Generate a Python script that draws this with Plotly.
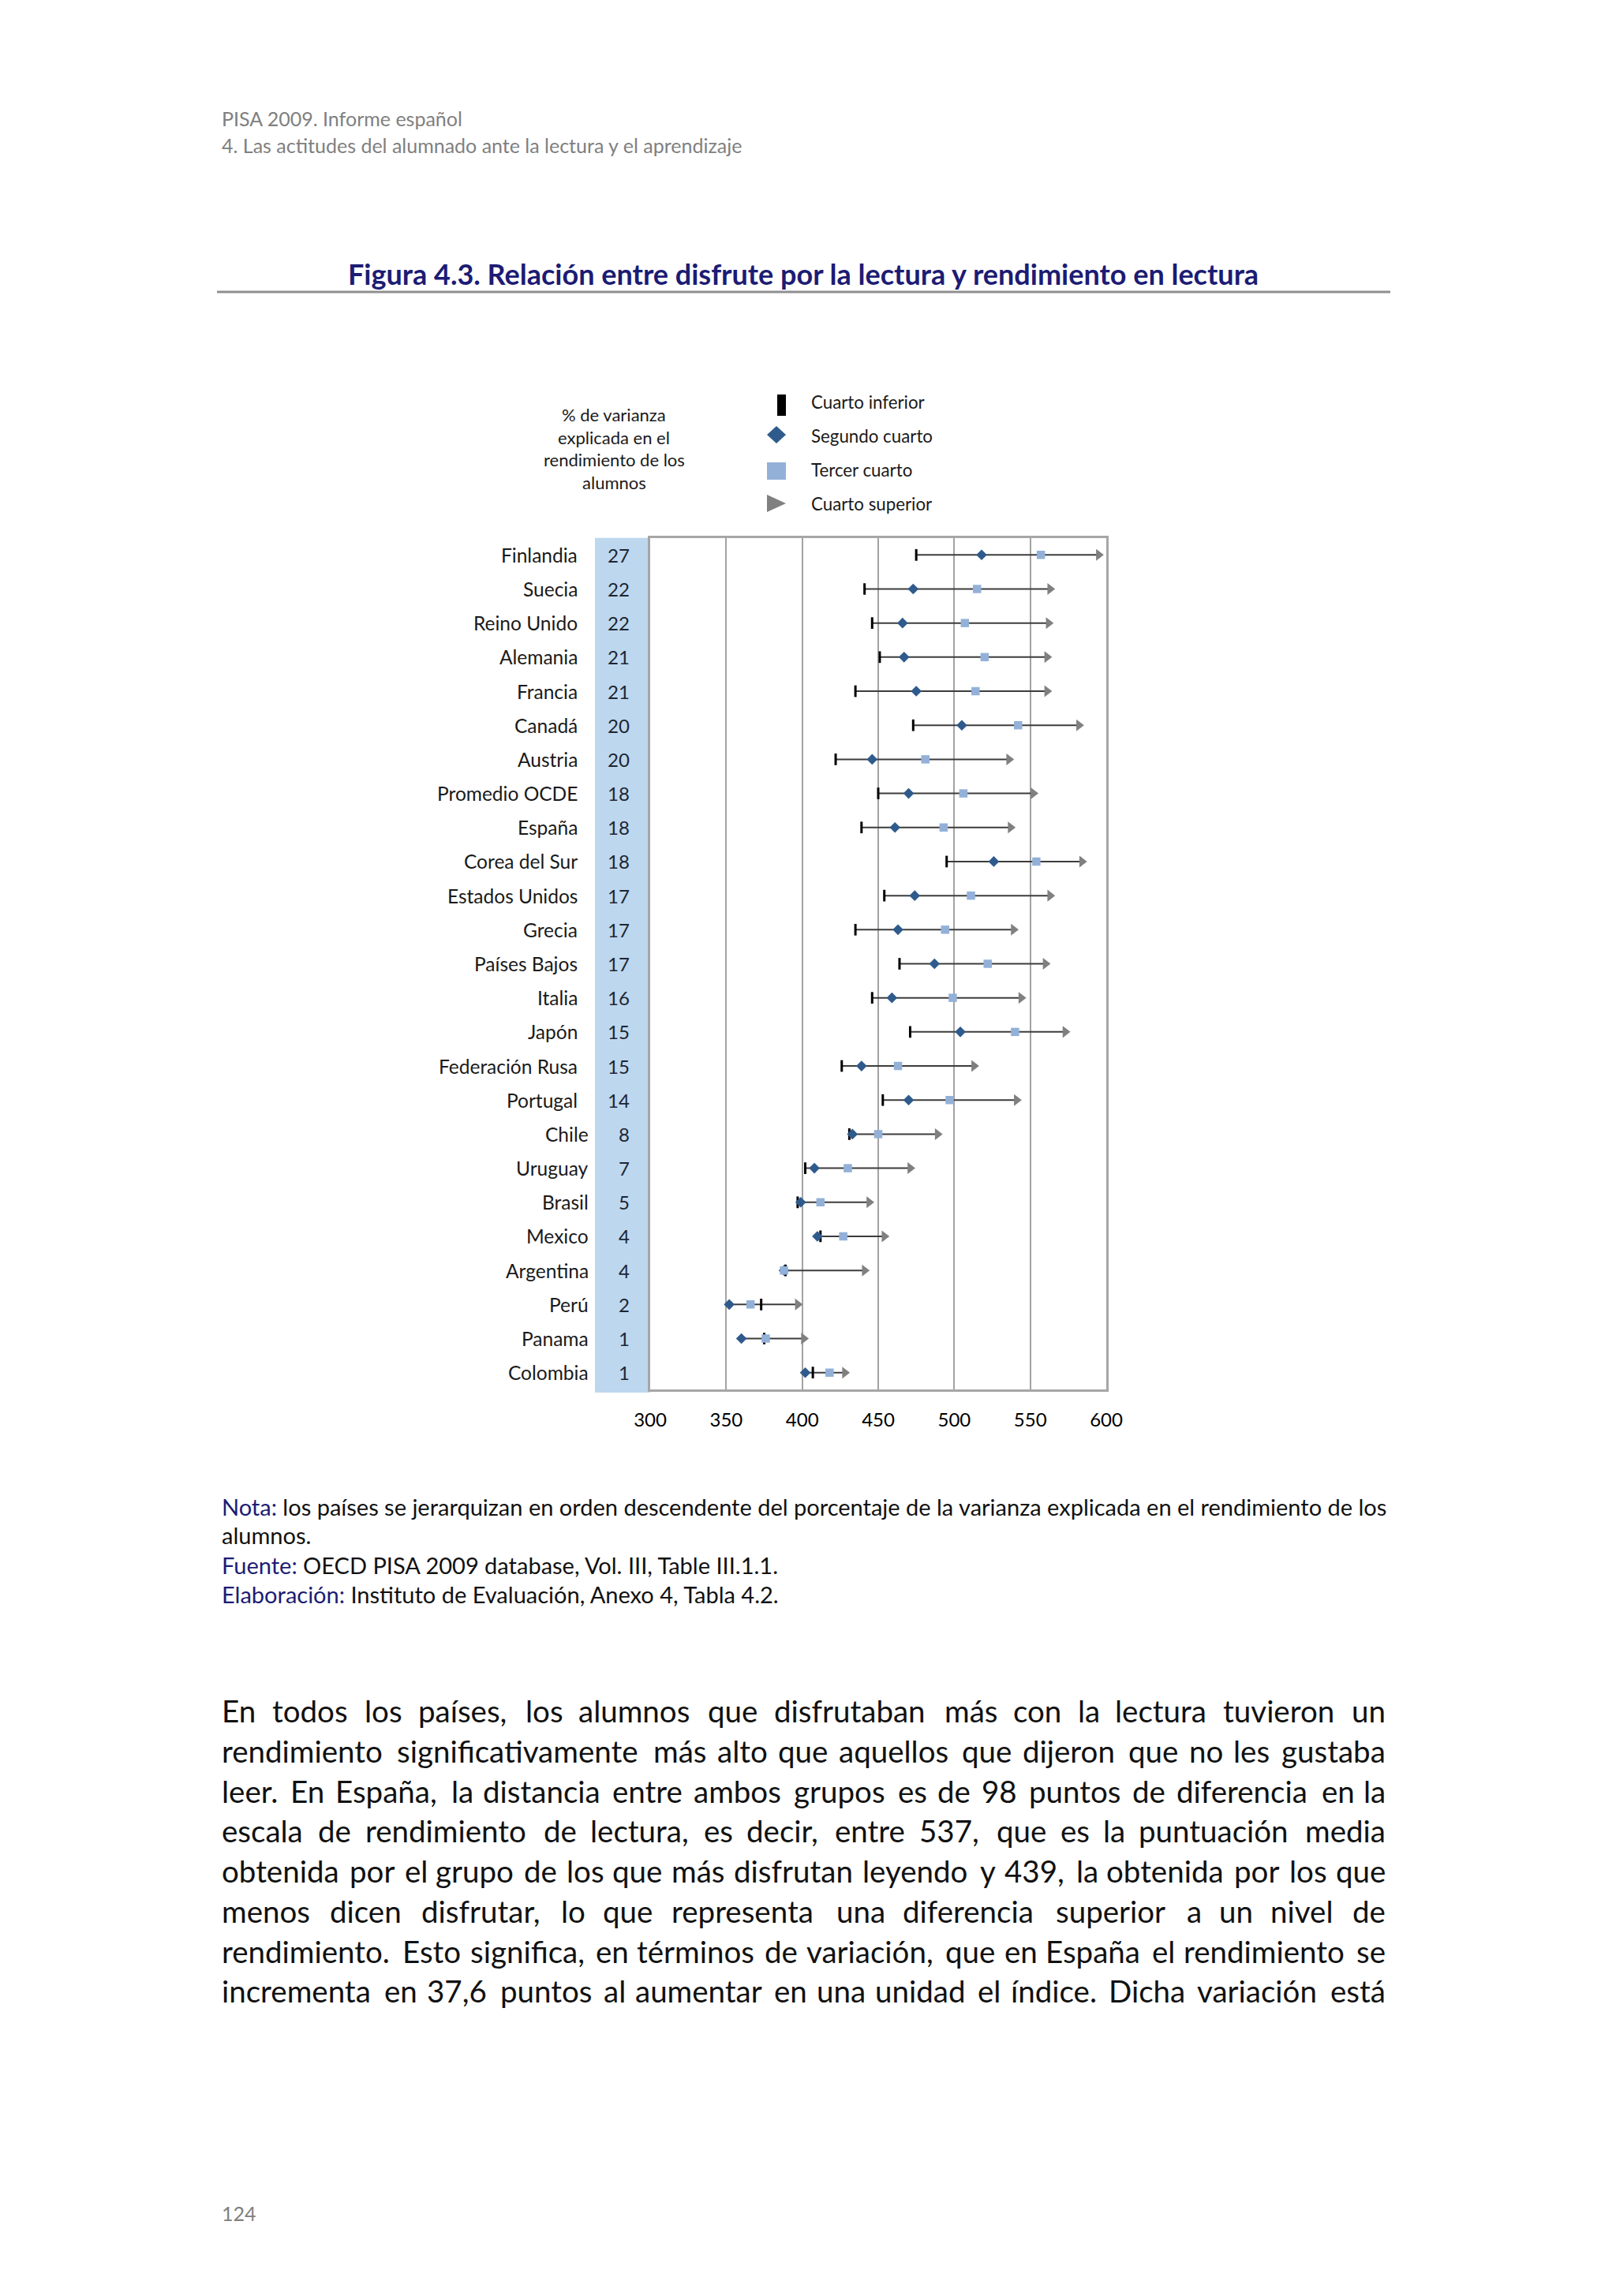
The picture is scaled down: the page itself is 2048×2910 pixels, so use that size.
import plotly.graph_objects as go

W, H = 2048, 2910
FONT = "Lato"

# ---------------- data ----------------
countries = ["Finlandia", "Suecia", "Reino Unido", "Alemania", "Francia", "Canadá", "Austria",
             "Promedio OCDE", "España", "Corea del Sur", "Estados Unidos", "Grecia", "Países Bajos",
             "Italia", "Japón", "Federación Rusa", "Portugal", "Chile", "Uruguay", "Brasil",
             "Mexico", "Argentina", "Perú", "Panama", "Colombia"]
pct_varianza = [27, 22, 22, 21, 21, 20, 20, 18, 18, 18, 17, 17, 17, 16, 15, 15, 14, 8, 7, 5, 4, 4, 2, 1, 1]
cuarto_inferior = [475, 441, 446, 451, 435, 473, 422, 450, 439, 495, 454, 435, 464, 446, 471, 426, 453,
                   431, 402, 397, 412, 389, 373, 375, 407]
segundo_cuarto = [518, 473, 466, 467, 475, 505, 446, 470, 461, 526, 474, 463, 487, 459, 504, 439, 470,
                  433, 408, 399, 410, 388, 352, 360, 402]
tercer_cuarto = [557, 515, 507, 520, 514, 542, 481, 506, 493, 554, 511, 494, 522, 499, 540, 463, 497,
                 450, 430, 412, 427, 388, 366, 376, 418]
cuarto_superior = [595, 563, 562, 561, 561, 582, 536, 552, 537, 584, 563, 539, 560, 544, 573, 513, 541,
                   489, 471, 444, 454, 441, 397, 401, 428]
x_ticks = [300, 350, 400, 450, 500, 550, 600]
legend_names = ["Cuarto inferior", "Segundo cuarto", "Tercer cuarto", "Cuarto superior"]

header_lines = ["PISA 2009. Informe español",
                "4. Las actitudes del alumnado ante la lectura y el aprendizaje"]
title_text = "Figura 4.3. Relación entre disfrute por la lectura y rendimiento en lectura"
var_label = ["% de varianza", "explicada en el", "rendimiento de los", "alumnos"]
body_lines = [
    "En todos los países, los alumnos que disfrutaban más con la lectura tuvieron un",
    "rendimiento significativamente más alto que aquellos que dijeron que no les gustaba",
    "leer. En España, la distancia entre ambos grupos es de 98 puntos de diferencia en la",
    "escala de rendimiento de lectura, es decir, entre 537, que es la puntuación media",
    "obtenida por el grupo de los que más disfrutan leyendo y 439, la obtenida por los que",
    "menos dicen disfrutar, lo que representa una diferencia superior a un nivel de",
    "rendimiento. Esto significa, en términos de variación, que en España el rendimiento se",
    "incrementa en 37,6 puntos al aumentar en una unidad el índice. Dicha variación está",
]

# ---------------- styles ----------------
C_INF = "#000000"
C_SEG = "#2f5b8c"
C_TER = "#93b1d8"
C_SUP = "#808080"
C_LINE = "#3c3c3c"
C_BAND = "#bdd7ee"
C_NAVY = "#1c1c74"
C_GRAY = "#808080"

# measured natural widths (px) of body lines at 33 px, used for justification
BODY_REF_SIZE = 33
BODY_MEASURED = [1162, 1238, 1226, 1186, 1255, 1133, 1258, 1235]
BODY_SIZE = 38.5
TEXT_L, TEXT_R = 280, 1757

# approximate relative advance widths (per 1000 em) for Lato-like sans
CHAR_W = {}
for ch, w in zip("abcdefghijklmnopqrstuvwxyz",
                 [470, 550, 460, 550, 505, 320, 500, 520, 225, 225, 500, 225, 780, 520, 545, 550, 550,
                  350, 420, 310, 520, 510, 770, 490, 510, 450]):
    CHAR_W[ch] = w
for ch, w in zip("ABCDEFGHIJKLMNOPQRSTUVWXYZ",
                 [680, 640, 680, 740, 580, 560, 730, 750, 290, 400, 660, 500, 900, 750, 800, 600, 800,
                  620, 510, 580, 720, 680, 1000, 650, 620, 620]):
    CHAR_W[ch] = w
CHAR_W.update({"á": 470, "é": 505, "í": 225, "ó": 545, "ú": 520, "ñ": 520, ",": 220, ".": 220,
               ";": 220, ":": 220, " ": 200})
for d in "0123456789":
    CHAR_W[d] = 580


def est_w(s):
    return sum(CHAR_W.get(c, 540) for c in s) / 1000.0


def px(x):
    return x / W


def py(y):
    return 1 - y / H


fig = go.Figure()
n = len(countries)
idx = list(range(n))

# range lines (min to max of the four quarters)
lx, ly = [], []
for i in idx:
    vals = [cuarto_inferior[i], segundo_cuarto[i], tercer_cuarto[i], cuarto_superior[i]]
    lx += [min(vals), max(vals), None]
    ly += [i, i, None]
fig.add_trace(go.Scatter(x=lx, y=ly, mode="lines", line=dict(color=C_LINE, width=2),
                         hoverinfo="skip", showlegend=False))
fig.add_trace(go.Scatter(x=cuarto_superior, y=idx, mode="markers", name=legend_names[3],
                         marker=dict(symbol="triangle-right", size=13, color=C_SUP), showlegend=False))
fig.add_trace(go.Scatter(x=cuarto_inferior, y=idx, mode="markers", name=legend_names[0],
                         marker=dict(symbol="line-ns-open", size=10.5, color=C_INF,
                                     line=dict(color=C_INF, width=3)), showlegend=False))
fig.add_trace(go.Scatter(x=segundo_cuarto, y=idx, mode="markers", name=legend_names[1],
                         marker=dict(symbol="diamond", size=10.5, color=C_SEG), showlegend=False))
fig.add_trace(go.Scatter(x=tercer_cuarto, y=idx, mode="markers", name=legend_names[2],
                         marker=dict(symbol="square", size=10.5, color=C_TER), showlegend=False))

PLOT_L, PLOT_R, PLOT_T, PLOT_B = 824, 1402, 681.7, 1761.3

shapes = []
annotations = []


def text(x, y, t, size, color="#111111", anchor="left", bold=False, yref="paper"):
    annotations.append(dict(xref="paper", yref=yref, x=px(x), y=(py(y) if yref == "paper" else y),
                            text=("<b>" + t + "</b>") if bold else t,
                            xanchor=anchor, yanchor="middle", showarrow=False, borderpad=0,
                            font=dict(family=FONT, size=size, color=color)))


# blue column for % varianza
shapes.append(dict(type="rect", xref="paper", yref="paper", x0=px(754), x1=px(PLOT_L),
                   y0=py(1765), y1=py(PLOT_T), fillcolor=C_BAND, line=dict(width=0), layer="below"))

# country labels + percentages
for i in idx:
    xr = 733 if i < 17 else 747
    text(xr, i, countries[i], 24.5, "#1a1a1a", "right", yref="y")
    text(799, i, str(pct_varianza[i]), 24, "#1c2633", "right", yref="y")

# header
for t, yy in zip(header_lines, [150, 184]):
    text(280, yy, t, 25, C_GRAY)

# title
text(1018, 347, title_text, 36, C_NAVY, "center", bold=True)
shapes.append(dict(type="line", xref="paper", yref="paper", x0=px(275), x1=px(1762),
                   y0=py(370), y1=py(370), line=dict(color="#8f8f8f", width=3)))

# left legend text
for t, yy in zip(var_label, [525, 554, 583, 611]):
    text(778, yy, t, 22, "#1a1a1a", "center")

# legend symbols (drawn as shapes) and labels
shapes.append(dict(type="rect", xref="paper", yref="paper", x0=px(985), x1=px(996),
                   y0=py(527), y1=py(500), fillcolor=C_INF, line=dict(width=0)))
cx, cy = 984, 551
shapes.append(dict(type="path", xref="paper", yref="paper",
                   path=f"M {px(cx-12)} {py(cy)} L {px(cx)} {py(cy-11)} L {px(cx+12)} {py(cy)} L {px(cx)} {py(cy+11)} Z",
                   fillcolor=C_SEG, line=dict(width=0)))
shapes.append(dict(type="rect", xref="paper", yref="paper", x0=px(972), x1=px(996),
                   y0=py(608), y1=py(586), fillcolor=C_TER, line=dict(width=0)))
shapes.append(dict(type="path", xref="paper", yref="paper",
                   path=f"M {px(972)} {py(627)} L {px(996)} {py(638)} L {px(972)} {py(649)} Z",
                   fillcolor=C_SUP, line=dict(width=0)))
for t, yy in zip(legend_names, [509, 552, 596, 638]):
    text(1027, yy, t, 22.3, "#1a1a1a")

# notes
notes = [
    (f"<span style='color:{C_NAVY}'>Nota:</span> los países se jerarquizan en orden descendente del porcentaje de la varianza explicada en el rendimiento de los", 1909),
    ("alumnos.", 1946),
    (f"<span style='color:{C_NAVY}'>Fuente:</span> OECD PISA 2009 database, Vol. III, Table III.1.1.", 1983),
    (f"<span style='color:{C_NAVY}'>Elaboración:</span> Instituto de Evaluación, Anexo 4, Tabla 4.2.", 2020),
]
for t, yy in notes:
    text(280, yy, t, 29, "#111111")

# body paragraph, justified word by word
for k, line in enumerate(body_lines):
    yy = 2168 + 50.75 * k
    words = line.split(" ")
    est = [est_w(w) for w in words]
    est_total = sum(est) + (len(words) - 1) * est_w(" ")
    scale = BODY_MEASURED[k] / est_total * BODY_SIZE / BODY_REF_SIZE
    ww = [e * scale for e in est]
    gap = (TEXT_R - TEXT_L - sum(ww)) / (len(words) - 1)
    xcur = TEXT_L
    for j, w in enumerate(words):
        if j == len(words) - 1:
            text(TEXT_R, yy, w, BODY_SIZE, "#111111", "right")
        else:
            text(xcur, yy, w, BODY_SIZE, "#111111", "left")
        xcur += ww[j] + gap

# page number
text(280, 2805, "124", 25, C_GRAY)

fig.update_layout(
    width=W, height=H, autosize=False, margin=dict(l=0, r=0, t=0, b=0, autoexpand=False),
    paper_bgcolor="white", plot_bgcolor="white",
    showlegend=False,
    xaxis=dict(domain=[px(PLOT_L), px(PLOT_R)], range=[300, 600], tickvals=x_ticks,
               showgrid=True, gridcolor="#a3a3a3", gridwidth=1.5, zeroline=False,
               showline=True, mirror=True, linecolor="#a6a6a6", linewidth=3, ticks="",
               tickfont=dict(family=FONT, size=24, color="black"), ticklabelstandoff=15,
               automargin=False, fixedrange=True),
    yaxis=dict(domain=[py(PLOT_B), py(PLOT_T)], range=[n - 0.5, -0.5], showticklabels=False,
               showgrid=False, zeroline=False, showline=True, mirror=True,
               linecolor="#a6a6a6", linewidth=3, automargin=False, fixedrange=True),
    shapes=shapes,
    annotations=annotations,
)

fig.write_html("out.html", config={"displayModeBar": False, "responsive": False},
               post_script="document.body.style.margin='0';document.body.style.padding='0';")
